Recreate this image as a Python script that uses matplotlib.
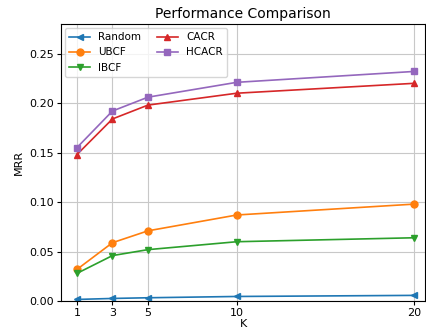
import matplotlib
matplotlib.use('Agg')
import matplotlib.pyplot as plt

# K values and MRR per method
k = [1, 3, 5, 10, 20]
random_mrr = [0.0017, 0.0027, 0.0034, 0.0047, 0.0058]
ubcf_mrr = [0.032, 0.059, 0.071, 0.087, 0.098]
ibcf_mrr = [0.028, 0.046, 0.052, 0.060, 0.064]
cacr_mrr = [0.148, 0.184, 0.198, 0.210, 0.220]
hcacr_mrr = [0.155, 0.192, 0.206, 0.221, 0.232]

fig = plt.figure(figsize=(4.26, 3.32), dpi=100)
ax = fig.add_axes([0.143, 0.093, 0.855, 0.835])

lw, ms = 1.2, 5
ax.plot(k, random_mrr, marker='<', color='#1f77b4', label='Random', lw=lw, ms=ms)
ax.plot(k, ubcf_mrr, marker='o', color='#ff7f0e', label='UBCF', lw=lw, ms=ms)
ax.plot(k, ibcf_mrr, marker='v', color='#2ca02c', label='IBCF', lw=lw, ms=ms)
ax.plot(k, cacr_mrr, marker='^', color='#d62728', label='CACR', lw=lw, ms=ms)
ax.plot(k, hcacr_mrr, marker='s', color='#9467bd', label='HCACR', lw=lw, ms=ms)

ax.set_xlim(0.1, 20.6)
ax.set_ylim(0, 0.28)
ax.set_xticks(k)
ax.grid(True, color='#c8c8c8')
ax.tick_params(labelsize=8, length=3, pad=2)
ax.set_xlabel('K', fontsize=8, labelpad=1)
ax.set_ylabel('MRR', fontsize=8)
ax.set_title('Performance Comparison', fontsize=10, pad=4)
ax.legend(ncol=2, fontsize=7.5, loc='upper left', handlelength=2.0,
          columnspacing=1.5, borderaxespad=0.4)

fig.savefig('out.png', dpi=100)
